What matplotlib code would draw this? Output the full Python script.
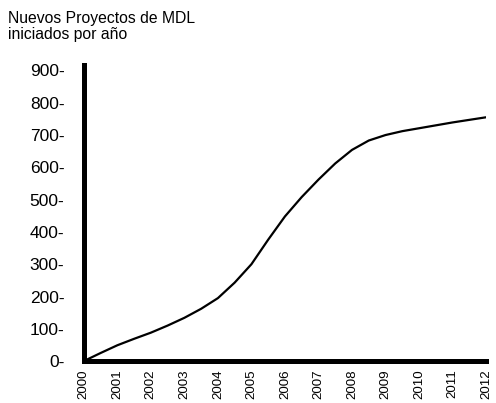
import matplotlib
matplotlib.use("Agg")
import matplotlib.pyplot as plt

plt.rcParams['font.family'] = ['Liberation Sans', 'DejaVu Sans']

# valores (cada medio año)
anios = [2000, 2000.5, 2001, 2001.5, 2002, 2002.5, 2003, 2003.5, 2004, 2004.5,
         2005, 2005.5, 2006, 2006.5, 2007, 2007.5, 2008, 2008.5, 2009, 2009.5,
         2010, 2010.5, 2011, 2011.5, 2012]
proyectos = [0, 25, 49, 69, 88, 110, 134, 162, 195, 243,
             300, 376, 448, 508, 562, 612, 654, 683, 700, 712,
             721, 730, 739, 747, 755]
years = list(range(2000, 2013))
yticks = [0, 100, 200, 300, 400, 500, 600, 700, 800, 900]
titulo = "Nuevos Proyectos de MDL\niniciados por año"

fig = plt.figure(figsize=(4.96, 4.03), dpi=100)
ax = fig.add_axes([0.169, 0.104, 0.811, 0.734])

ax.plot(anios, proyectos, color='black', linewidth=1.6, solid_capstyle='round',
        solid_joinstyle='round')

ax.set_xlim(2000, 2012)
ax.set_ylim(0, 916)

for s in ['top', 'right']:
    ax.spines[s].set_visible(False)
for s in ['left', 'bottom']:
    ax.spines[s].set_linewidth(3.6)
    ax.spines[s].set_color('black')

ax.set_yticks(yticks)
ax.set_yticklabels([f"{v}-" for v in yticks], fontsize=12.5)
ax.set_xticks(years)
ax.set_xticklabels([str(y) for y in years], rotation=90, fontsize=9.6)
ax.tick_params(axis='y', length=0, pad=14)
ax.tick_params(axis='x', length=0, pad=6)

fig.text(0.016, 0.972, titulo, fontsize=11.3, ha='left', va='top', linespacing=1.05)

fig.savefig("out.png", dpi=100)
